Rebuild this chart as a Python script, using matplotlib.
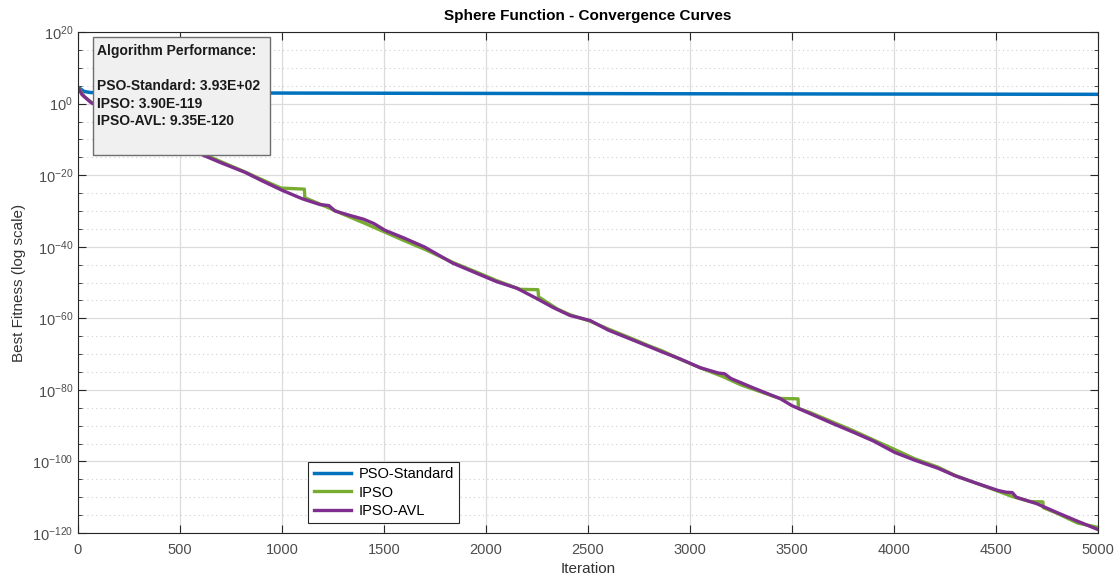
# Sphere function convergence curves (PSO vs IPSO vs IPSO-AVL), MATLAB style look
import matplotlib
matplotlib.use('Agg')
import matplotlib.pyplot as plt
import numpy as np
from matplotlib.patches import Rectangle
from matplotlib.ticker import FixedLocator, LogFormatterMathtext, NullFormatter

plt.rcParams['font.family'] = ['Liberation Sans', 'DejaVu Sans']

# best fitness, stored as log10 values
pso_iter = [0, 30, 60, 100, 500, 1000, 2000, 3000, 4000, 5000]
pso_log = [4.6, 3.4, 3.1, 3.05, 3.0, 2.95, 2.85, 2.75, 2.67, 2.594]

ipso_iter = [0, 30, 64, 150, 250, 400, 500, 613, 700, 819, 900, 995, 1110, 1112,
             1200, 1300, 1400, 1500, 1600, 1700, 1838, 1950, 2050, 2167, 2255, 2258,
             2350, 2412, 2510, 2600, 2700, 2800, 2868, 2950, 3050, 3162, 3250, 3350,
             3441, 3530, 3532, 3588, 3700, 3800, 3900, 4005, 4100, 4216, 4300, 4400,
             4510, 4580, 4667, 4730, 4732, 4800, 4900, 5000]
ipso_log = [4.6, 2.0, 0.4, -2.0, -4.5, -8.3, -10.9, -14.0, -16.2, -19.1, -21.2, -23.6, -23.9, -26.3,
            -28.4, -30.9, -33.3, -35.8, -38.3, -40.7, -44.4, -47.0, -49.4, -51.9, -52.0, -54.0,
            -57.4, -59.0, -60.8, -63.0, -65.3, -67.7, -69.2, -71.4, -73.8, -76.3, -78.6, -80.6,
            -82.4, -82.5, -85.2, -86.3, -89.0, -91.4, -94.0, -96.7, -99.2, -101.6, -103.9, -106.0,
            -108.3, -109.8, -111.2, -111.3, -112.9, -114.5, -117.2, -118.41]

avl_iter = [0, 20, 64, 150, 250, 400, 500, 613, 700, 819, 900, 1000, 1100, 1186, 1230,
            1260, 1330, 1400, 1450, 1505, 1600, 1700, 1838, 1950, 2050, 2152, 2250, 2330,
            2412, 2510, 2600, 2700, 2800, 2868, 2950, 3050, 3140, 3170, 3200, 3300, 3400,
            3441, 3500, 3588, 3700, 3800, 3900, 4005, 4100, 4216, 4300, 4400, 4510, 4550,
            4580, 4600, 4700, 4800, 4900, 5000]
avl_log = [4.6, 2.5, 0.3, -2.3, -4.8, -8.5, -11.0, -14.4, -16.5, -19.2, -21.5, -24.2, -26.6, -28.2, -28.5,
           -30.0, -31.2, -32.3, -33.5, -35.4, -37.6, -40.1, -44.6, -47.3, -49.7, -51.6, -54.5, -57.0,
           -59.2, -60.6, -63.3, -65.6, -67.9, -69.5, -71.3, -73.8, -75.3, -75.5, -76.8, -79.2, -81.5,
           -82.4, -84.4, -86.6, -89.4, -91.8, -94.3, -97.5, -99.6, -101.9, -104.0, -106.0, -108.1, -108.6,
           -108.7, -110.0, -111.8, -114.3, -116.7, -119.03]

final_vals = {'PSO-Standard': '3.93E+02', 'IPSO': '3.90E-119', 'IPSO-AVL': '9.35E-120'}

fig = plt.figure(figsize=(11.2, 5.88), dpi=100)
ax = fig.add_axes([0.0696, 0.0935, 0.9107, 0.852])

ax.semilogy(pso_iter, 10.0 ** np.array(pso_log), color='#0072BD', lw=2.5, label='PSO-Standard')
ax.semilogy(ipso_iter, 10.0 ** np.array(ipso_log), color='#77AC30', lw=2.4, label='IPSO')
ax.semilogy(avl_iter, 10.0 ** np.array(avl_log), color='#7E2F8E', lw=2.4, label='IPSO-AVL')

ax.set_xlim(0, 5000)
ax.set_ylim(1e-120, 1e20)
ax.set_xticks(np.arange(0, 5001, 500))
ax.yaxis.set_major_locator(FixedLocator([10.0 ** e for e in range(-120, 21, 20)]))
ax.yaxis.set_minor_locator(FixedLocator([10.0 ** e for e in range(-120, 21, 5) if e % 20]))
ax.yaxis.set_major_formatter(LogFormatterMathtext())
ax.yaxis.set_minor_formatter(NullFormatter())

ax.tick_params(which='both', direction='in', top=True, right=True, colors='#262626',
               labelcolor='#4d4d4d', labelsize=10.5)
ax.tick_params(which='major', length=6)
ax.tick_params(which='minor', length=3)
ax.tick_params(axis='x', pad=7)

ax.grid(True, which='major', color='#dcdcdc', lw=0.9, ls='-')
ax.grid(True, which='minor', color='#cfcfcf', lw=0.8, ls=(0, (1, 3)))
ax.set_axisbelow(True)
for sp in ax.spines.values():
    sp.set_color('#262626')
    sp.set_linewidth(0.8)

ax.set_title('Sphere Function - Convergence Curves', fontsize=11, fontweight='bold', pad=9)
ax.set_xlabel('Iteration', fontsize=11, color='#333333', labelpad=4)
ax.set_ylabel('Best Fitness (log scale)', fontsize=11, color='#333333')

# info box in the top left corner
ax.add_patch(Rectangle((0.0147, 0.754), 0.1735, 0.236, transform=ax.transAxes,
                       fc='#f0f0f0', ec='#6e6e6e', lw=1.0, zorder=5))
info = 'Algorithm Performance:\n\n' + '\n'.join(f'{k}: {v}' for k, v in final_vals.items())
ax.text(0.0186, 0.976, info, transform=ax.transAxes, va='top', ha='left', fontsize=10,
        fontweight='bold', color='#1a1a1a', linespacing=1.32, zorder=6)

leg = ax.legend(loc='lower left', bbox_to_anchor=(0.226, 0.02), fontsize=10.5, fancybox=False,
                framealpha=1, edgecolor='#262626', handlelength=2.6, borderpad=0.35,
                labelspacing=0.3, handletextpad=0.5, borderaxespad=0)
leg.get_frame().set_linewidth(0.8)

fig.savefig('out.png', dpi=100)
